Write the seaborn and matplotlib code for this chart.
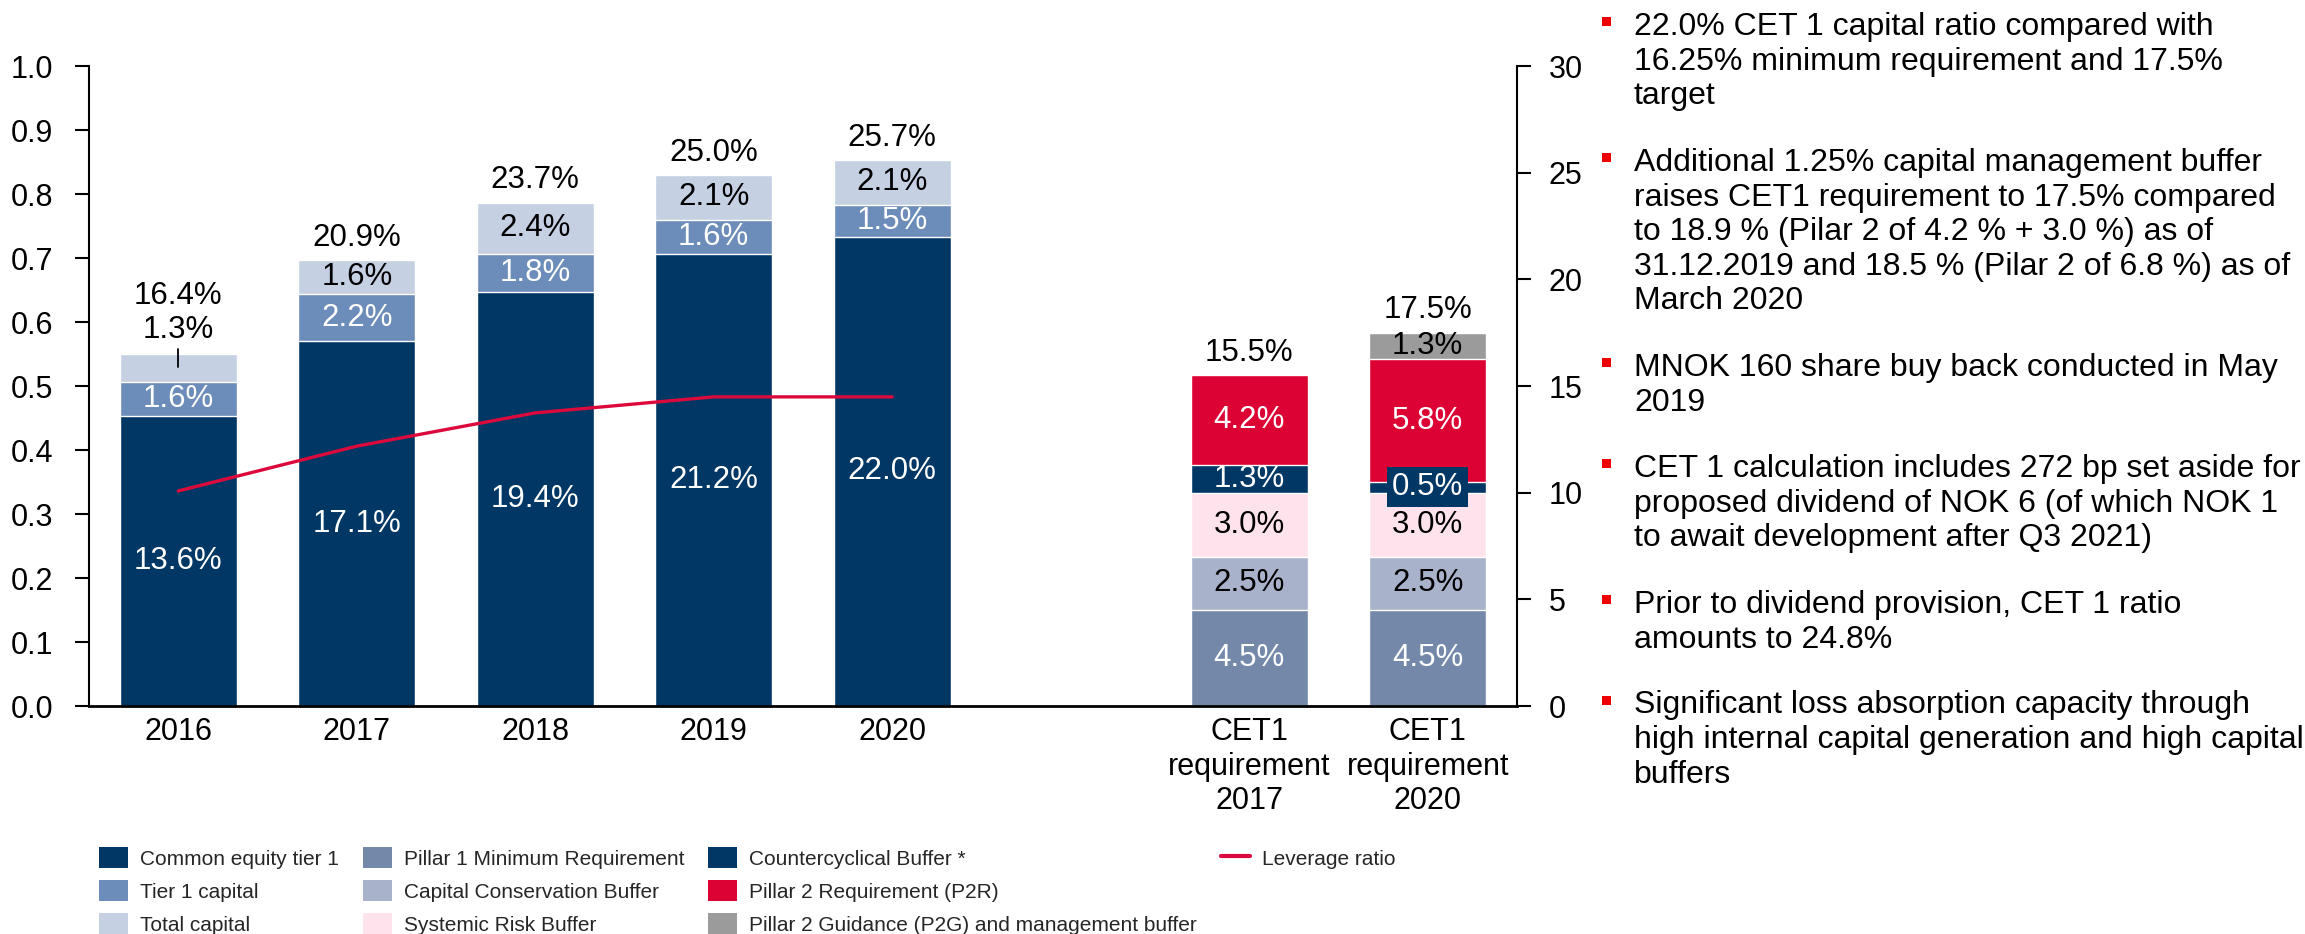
import numpy as np
import pandas as pd
import matplotlib
matplotlib.use("Agg")
import matplotlib.pyplot as plt
import seaborn as sns
from matplotlib.patches import Patch, Rectangle
from matplotlib.lines import Line2D

# ---------------- data ----------------
years = ["2016", "2017", "2018", "2019", "2020"]
cet1 = [13.6, 17.1, 19.4, 21.2, 22.0]
tier1_add = [1.6, 2.2, 1.8, 1.6, 1.5]
total_add = [1.3, 1.6, 2.4, 2.1, 2.1]
total_labels = ["16.4%", "20.9%", "23.7%", "25.0%", "25.7%"]
leverage = [0.336, 0.406, 0.458, 0.483, 0.483]   # read on left axis

req_cats = ["CET1\nrequirement\n2017", "CET1\nrequirement\n2020"]
pillar1 = [4.5, 4.5]
ccb = [2.5, 2.5]
srb = [3.0, 3.0]
ccyb = [1.3, 0.5]
p2r = [4.2, 5.75]
p2g = [0.0, 1.25]
req_total_labels = ["15.5%", "17.5%"]

bullets = [
    "22.0% CET 1 capital ratio compared with\n16.25% minimum requirement and 17.5%\ntarget",
    "Additional 1.25% capital management buffer\nraises CET1 requirement to 17.5% compared\n"
    "to 18.9 % (Pilar 2 of 4.2 % + 3.0 %) as of\n31.12.2019 and 18.5 % (Pilar 2 of 6.8 %) as of\nMarch 2020",
    "MNOK 160 share buy back conducted in May\n2019",
    "CET 1 calculation includes 272 bp set aside for\nproposed dividend of NOK 6 (of which NOK 1\nto await development after Q3 2021)",
    "Prior to dividend provision, CET 1 ratio\namounts to 24.8%",
    "Significant loss absorption capacity through\nhigh internal capital generation and high capital\nbuffers",
]

# ---------------- style ----------------
NAVY = "#003764"
C_T1 = "#6C8CB9"
C_TOT = "#C5D0E3"
C_P1 = "#7489AA"
C_CCB = "#A8B2CB"
C_SRB = "#FFE3EC"
C_P2R = "#DC0334"
C_P2G = "#9B9B9B"
C_LEV = "#DC0A3C"
C_BUL = "#EE0000"

sns.set_theme(style="white")
plt.rcParams["font.family"] = ["Liberation Sans", "DejaVu Sans"]

W, H = 2305, 934
fig = plt.figure(figsize=(W / 100, H / 100), dpi=100)
ax = fig.add_axes([89 / W, (H - 706) / H, (1517 - 89) / W, (706 - 66) / H])

cats = years + [" "] + req_cats

# components: name, categories, values, colour, text colour
left_stack = [
    ("Common equity tier 1", years, cet1, NAVY, "white"),
    ("Tier 1 capital", years, tier1_add, C_T1, "white"),
    ("Total capital", years, total_add, C_TOT, "black"),
]
req_stack = [
    ("Pillar 1 Minimum Requirement", req_cats, pillar1, C_P1, "white"),
    ("Capital Conservation Buffer", req_cats, ccb, C_CCB, "black"),
    ("Systemic Risk Buffer", req_cats, srb, C_SRB, "black"),
    ("Countercyclical Buffer *", req_cats, ccyb, NAVY, "white"),
    ("Pillar 2 Requirement (P2R)", req_cats, p2r, C_P2R, "white"),
    ("Pillar 2 Guidance (P2G) and management buffer", req_cats, p2g, C_P2G, "black"),
]

rows = []
for stack in (left_stack, req_stack):
    cum = {}
    for order, (name, cl, vals, col, tcol) in enumerate(stack):
        for c, v in zip(cl, vals):
            b = cum.get(c, 0.0)
            rows.append(dict(cat=c, comp=name, val=v, bottom=b, top=b + v,
                             color=col, tcol=tcol, order=order))
            cum[c] = b + v
df = pd.DataFrame(rows)
df = df[df["val"] > 0]

# draw tallest layers first so lower layers overlay them
for stack in (left_stack, req_stack):
    for name, cl, vals, col, tcol in reversed(stack):
        sub = df[df["comp"] == name]
        sns.barplot(data=sub, x="cat", y="top", order=cats, color=col,
                    saturation=1, width=0.655, edgecolor="white", linewidth=1.0,
                    errorbar=None, ax=ax)

def fmt(v):
    return f"{np.floor(v * 10 + 0.5) / 10:.1f}%"

LBL = 22.5
for _, r in df.iterrows():
    i = cats.index(r["cat"])
    if r["cat"] == "2016" and r["comp"] == "Total capital":
        ax.annotate(fmt(r["val"]), xy=(i, r["top"]), xytext=(0, 17.5),
                    textcoords="offset points", ha="center", va="center",
                    fontsize=LBL, color="black")
        ax.plot([i, i], [r["top"] - 0.6, r["top"] + 0.24], color="black", lw=1.3)
    elif r["cat"] == req_cats[1] and r["comp"] == "Countercyclical Buffer *":
        ax.text(i, r["bottom"] + r["val"] / 2, fmt(r["val"]), ha="center", va="center",
                fontsize=LBL, color="white",
                bbox=dict(facecolor=NAVY, edgecolor="none", boxstyle="square,pad=0.16"))
    else:
        ax.text(i, r["bottom"] + r["val"] / 2, fmt(r["val"]), ha="center", va="center",
                fontsize=LBL, color=r["tcol"])

# totals above bars
tops = df.groupby("cat")["top"].max()
for c, lab in zip(years, total_labels):
    off = 41.5 if c == "2016" else 16
    ax.annotate(lab, xy=(cats.index(c), tops[c]), xytext=(0, off),
                textcoords="offset points", ha="center", va="center",
                fontsize=LBL, color="black")
for c, lab in zip(req_cats, req_total_labels):
    ax.annotate(lab, xy=(cats.index(c), tops[c]), xytext=(0, 16),
                textcoords="offset points", ha="center", va="center",
                fontsize=LBL, color="black")

# left axis (0-1) with leverage ratio line
ax2 = ax.twinx()
sns.lineplot(x=np.arange(len(years)), y=leverage, ax=ax2, color=C_LEV, linewidth=2.4)

# right axis (0-30) settings, after twinx (which moves ticks)
ax.set_ylim(0, 30)
ax.set_xlim(-0.5, len(cats) - 0.5)
ax.set_yticks(np.arange(0, 31, 5))
ax.yaxis.tick_right()
ax.set_xlabel("")
ax.set_ylabel("")
ax.tick_params(axis="y", right=True, left=False, labelright=True, labelleft=False,
               length=10, width=1.5, labelsize=22, pad=13, direction="out", colors="black")
ax.tick_params(axis="x", length=0, labelsize=22, pad=8, colors="black")
for s in ("top", "left"):
    ax.spines[s].set_visible(False)
ax.spines["right"].set_visible(True)
ax.spines["right"].set_color("black")
ax.spines["right"].set_linewidth(1.5)
ax.spines["bottom"].set_color("black")
ax.spines["bottom"].set_linewidth(2.0)

ax2.set_ylim(0, 1)
ax2.set_xlim(-0.5, len(cats) - 0.5)
ax2.set_yticks(np.round(np.arange(0, 1.01, 0.1), 1))
ax2.set_yticklabels([f"{t:.1f}" for t in np.arange(0, 1.01, 0.1)])
ax2.yaxis.tick_left()
ax2.tick_params(axis="y", left=True, right=False, labelleft=True, labelright=False,
                length=10, width=1.5, labelsize=22, pad=16, direction="out", colors="black")
ax2.set_ylabel("")
ax2.set_xlabel("")
for s in ("top", "right", "bottom"):
    ax2.spines[s].set_visible(False)
ax2.spines["left"].set_visible(True)
ax2.spines["left"].set_color("black")
ax2.spines["left"].set_linewidth(1.5)
ax2.grid(False)
ax.grid(False)

# legend (blank entries keep the 3-3-3-1 column layout)
handles = [Patch(facecolor=col, edgecolor="none", label=name)
           for name, _, _, col, _ in left_stack + req_stack]
handles.append(Line2D([0], [0], color=C_LEV, lw=3, label="Leverage ratio"))
handles += [Patch(facecolor="none", edgecolor="none", label=" ") for _ in range(2)]
fig.legend(handles=handles, ncol=4, loc="upper left",
           bbox_to_anchor=(99 / W, (H - 847) / H), frameon=False, fontsize=15,
           handlelength=1.39, handleheight=1.17, handletextpad=0.58,
           columnspacing=1.15, labelspacing=0.56, borderpad=0, borderaxespad=0)

# bullet text
baselines = [35, 171, 376, 477, 613, 713.5]
for txt, bl in zip(bullets, baselines):
    fig.text(1634 / W, 1 - (bl - 23) / H, txt, fontsize=23, ha="left", va="top",
             linespacing=1.2, color="black")
    fig.add_artist(Rectangle((1602 / W, 1 - (bl - 9) / H), 9 / W, 9 / H,
                             transform=fig.transFigure, facecolor=C_BUL,
                             edgecolor="none"))

fig.savefig("out.png", dpi=100)
